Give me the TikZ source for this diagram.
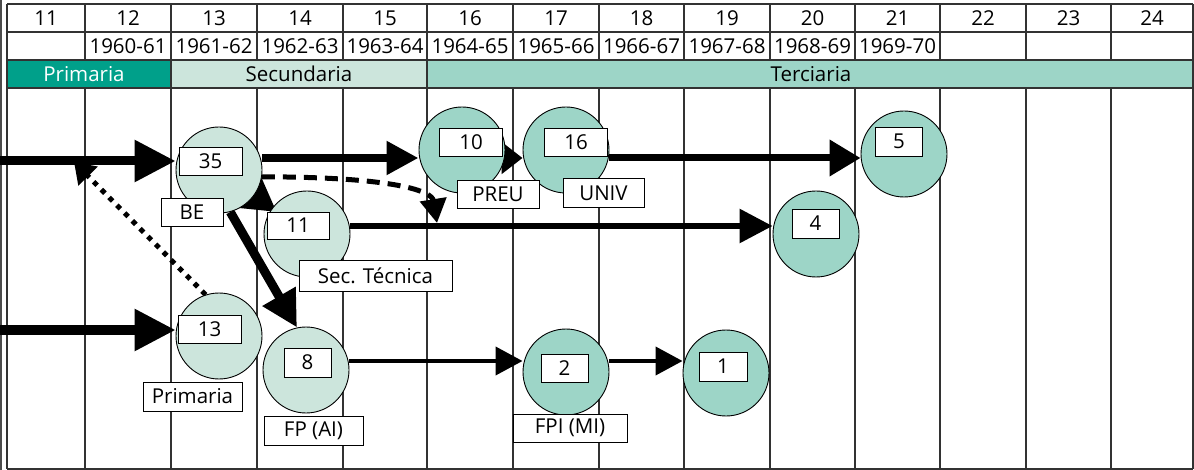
\documentclass[tikz,border=0pt]{standalone}
\usepackage{fontspec}
\setmainfont{Open Sans}
\usetikzlibrary{arrows.meta}
\definecolor{darkteal}{RGB}{0,160,138}
\definecolor{lightg}{RGB}{204,229,220}
\definecolor{midg}{RGB}{157,213,199}
\definecolor{gridc}{RGB}{50,50,50}
\pgfdeclarelayer{bg}
\pgfdeclarelayer{arr}
\pgfsetlayers{bg,arr,main}
\begin{document}
\begin{tikzpicture}[x=1pt,y=-1pt,
  every node/.style={font=\fontsize{20.5}{24}\selectfont},
  gridline/.style={draw=gridc, line width=1.1pt},
  circl/.style={circle, draw=black, line width=0.9pt, minimum size=86pt, inner sep=0pt},
  lightc/.style={circl, fill=lightg},
  midc/.style={circl, fill=midg},
  lbl/.style={draw=black, line width=0.9pt, fill=white, inner sep=0pt, minimum height=28pt},
  cell/.style={inner sep=0pt},
  bigarrow/.style={line width=9pt, -{Triangle[length=41pt,width=40pt]}},
  arrowA/.style={line width=8pt, -{Triangle[length=32pt,width=32pt]}},
  arrowB/.style={line width=7pt, -{Triangle[length=31pt,width=35pt]}},
  arrowC/.style={line width=6pt, -{Triangle[length=33pt,width=33pt]}},
  arrowD/.style={line width=4pt, -{Triangle[length=27pt,width=28pt]}},
  dashedarrow/.style={line width=5pt, dash pattern=on 13pt off 8pt, -{Triangle[length=24pt,width=26pt]}},
  dottedarrow/.style={line width=5pt, dash pattern=on 5pt off 6pt, -{Triangle[length=20pt,width=26pt]}},
]
\useasboundingbox (0,0) rectangle (1194,470);

% ---------- table background ----------
\begin{pgfonlayer}{bg}
  \fill[white] (0,0) rectangle (1194,470);
  \fill[darkteal] (7,60) rectangle (171,88);
  \fill[lightg] (171,60) rectangle (427,88);
  \fill[midg] (427,60) rectangle (1193,88);
  \draw[draw=black!70, line width=1.3pt] (1,0) -- (1,470);
  \foreach \yy in {4,32,60,88} \draw[gridline] (7,\yy) -- (1193,\yy);
  \draw[gridline] (7,469) -- (1193,469);
  \draw[gridline] (7,4) -- (7,469);
  \draw[gridline] (1193,4) -- (1193,469);
  \foreach \xx in {85,171,257,343,427,513,599,684,770,855,940,1026,1111} {
    \draw[gridline] (\xx,4) -- (\xx,60);
    \draw[gridline] (\xx,88) -- (\xx,469);
  }
  \draw[gridline] (171,60) -- (171,88);
  \draw[gridline] (427,60) -- (427,88);
\end{pgfonlayer}

% ---------- header texts ----------
\foreach \n/\l/\r in {11/7/85,12/85/171,13/171/257,14/257/343,15/343/427,16/427/513,17/513/599,18/599/684,19/684/770,20/770/855,21/855/940,22/940/1026,23/1026/1111,24/1111/1193}
  \node[cell] (h\n) at ({(\l+\r)/2},18) {\n};
\foreach \n/\l/\r/\t in {12/85/171/1960-61,13/171/257/1961-62,14/257/343/1962-63,15/343/427/1963-64,16/427/513/1964-65,17/513/599/1965-66,18/599/684/1966-67,19/684/770/1967-68,20/770/855/1968-69,21/855/940/1969-70}
  \node[cell] (yr\n) at ({(\l+\r)/2},46) {\t};
\node[cell, text=white] (bandP) at (84,74) {Primaria};
\node[cell] (bandS) at (299,74) {Secundaria};
\node[cell] (bandT) at (811,74) {Terciaria};

% ---------- circles ----------
\node[lightc] (c35) at (219,170) {};
\node[lightc] (c11) at (307,234) {};
\node[midc] (c10) at (462,150) {};
\node[midc] (c16) at (566,150) {};
\node[midc] (c5) at (904,154) {};
\node[midc] (c4) at (816,234) {};
\node[lightc] (c13) at (219,336) {};
\node[lightc] (c8) at (306,370) {};
\node[midc] (c2) at (566,372) {};
\node[midc] (c1) at (726,373) {};

% ---------- labels ----------
\node[lbl, minimum width=63pt] (b35) at (210.5,161) {35};
\node[lbl, minimum width=62pt] (bBE) at (192,212) {BE};
\node[lbl, minimum width=62pt, minimum height=27pt] (b11) at (298,225.5) {11};
\node[lbl, minimum width=153pt, minimum height=31pt] (bSec) at (375.5,276) {Sec. Técnica};
\node[lbl, minimum width=63pt] (b10) at (471,142) {10};
\node[lbl, minimum width=82pt] (bPREU) at (498,194) {PREU};
\node[lbl, minimum width=63pt] (b16) at (576,142) {16};
\node[lbl, minimum width=81pt, minimum height=29pt] (bUNIV) at (603.5,193) {UNIV};
\node[lbl, minimum width=47pt, minimum height=29pt] (b5) at (899,141.5) {5};
\node[lbl, minimum width=47pt, minimum height=29pt] (b4) at (815.5,223.5) {4};
\node[lbl, minimum width=63pt] (b13) at (209.5,329) {13};
\node[lbl, minimum width=99pt, minimum height=29pt] (bPrim) at (192.5,396.5) {Primaria};
\node[lbl, minimum width=47pt, minimum height=29pt] (b8) at (307.5,362.5) {8};
\node[lbl, minimum width=99pt, minimum height=29pt] (bFP) at (313.5,430.5) {FP (AI)};
\node[lbl, minimum width=47pt] (b2) at (564.5,368) {2};
\node[lbl, minimum width=114pt] (bFPI) at (570,428) {FPI (MI)};
\node[lbl, minimum width=48pt, minimum height=29pt] (b1) at (723,366.5) {1};

% ---------- connectors ----------
\coordinate (in1) at (0,161);
\coordinate (in2) at (0,330);
\coordinate (ddot) at (74,162);
\coordinate (dend) at (437,223);
\begin{pgfonlayer}{arr}
  \draw[dottedarrow] (c13.108) -- (ddot);
  \draw[bigarrow] (in1) -- (in1 -| c35.west);
  \draw[bigarrow] (in2) -- (in2 -| c13.west);
  \draw[arrowA] ([yshift=12pt]c35.east) -- ([yshift=-8pt]c10.west);
  \draw[arrowB, -{Triangle[length=21pt,width=31pt]}] ([yshift=-8pt]c10.east) -- ([yshift=-8pt]c16.west);
  \draw[arrowB] ([yshift=-8pt]c16.east) -- ([yshift=-4pt]c5.west);
  \draw[arrowA, shorten >=-6pt, -{Triangle[length=40pt,width=44pt]}] (c35) -- (c11);
  \draw[dashedarrow] (c35.-9) .. controls (400,177) and (432,192) .. (dend);
  \draw[arrowC] ([yshift=8pt]c11.east) -- ([yshift=8pt]c4.west);
  \draw[bigarrow, -{Triangle[length=36pt,width=36pt]}] (c35.-75) -- (c8.102);
  \draw[arrowD] ([yshift=9pt]c8.east) -- ([yshift=11pt]c2.west);
  \draw[arrowD] ([yshift=11pt]c2.east) -- ([yshift=12pt]c1.west);
\end{pgfonlayer}
\end{tikzpicture}
\end{document}
